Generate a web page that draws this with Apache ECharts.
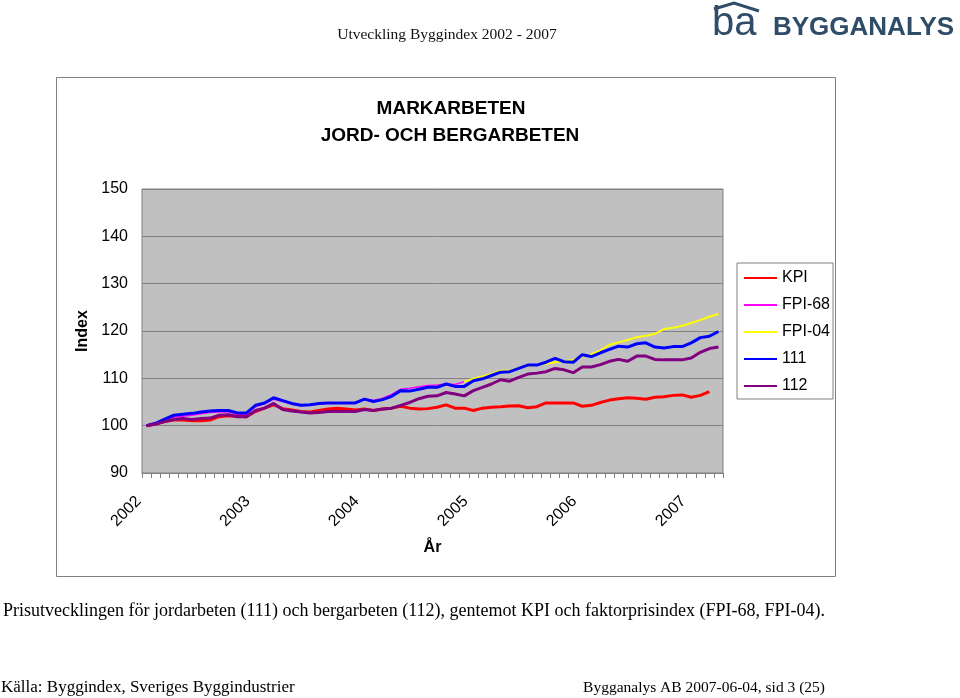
<!DOCTYPE html>
<html><head><meta charset="utf-8">
<script src="https://cdn.jsdelivr.net/npm/echarts@6/dist/echarts.min.js"></script>
<style>html,body{margin:0;padding:0;background:#fff}#c{width:960px;height:698px}</style>
</head><body><div id="c"></div>
<script>
const categories = [
 '2002-01','2002-02','2002-03','2002-04','2002-05','2002-06','2002-07','2002-08','2002-09','2002-10','2002-11','2002-12',
 '2003-01','2003-02','2003-03','2003-04','2003-05','2003-06','2003-07','2003-08','2003-09','2003-10','2003-11','2003-12',
 '2004-01','2004-02','2004-03','2004-04','2004-05','2004-06','2004-07','2004-08','2004-09','2004-10','2004-11','2004-12',
 '2005-01','2005-02','2005-03','2005-04','2005-05','2005-06','2005-07','2005-08','2005-09','2005-10','2005-11','2005-12',
 '2006-01','2006-02','2006-03','2006-04','2006-05','2006-06','2006-07','2006-08','2006-09','2006-10','2006-11','2006-12',
 '2007-01','2007-02','2007-03','2007-04'];
const seriesNames = ['KPI', 'FPI-68', 'FPI-04', '111', '112'];
const kpi = [100.0,100.35,100.85,101.2,101.2,101.05,101.05,101.2,101.9,102.1,102.0,101.9,
 103.0,103.7,104.4,103.6,103.3,103.0,102.9,103.2,103.5,103.7,103.5,103.3,
 103.5,103.2,103.5,103.7,104.1,103.7,103.5,103.6,103.9,104.4,103.7,103.7,
 103.2,103.7,103.9,104.0,104.15,104.2,103.8,104.0,104.8,104.8,104.8,104.8,
 104.1,104.3,104.9,105.4,105.7,105.9,105.8,105.6,106.0,106.1,106.4,106.5,
 106.0,106.4,107.2,null];
const fpi68 = [100.0,100.4,101.1,101.8,102.0,102.2,102.5,102.8,102.9,102.9,102.4,102.4,
 104.0,104.6,105.6,105.1,104.5,104.2,104.3,104.6,104.8,104.8,104.8,104.9,
 105.7,105.3,105.8,106.6,107.7,107.9,108.2,108.5,108.6,108.8,108.7,109.3,
 null,null,null,null,null,null,null,null,null,null,null,null,
 null,null,null,null,null,null,null,null,null,null,null,null,
 null,null,null,null];
const fpi04 = [null,null,null,null,null,null,null,null,null,null,null,null,
 null,null,null,null,null,null,null,null,null,null,null,null,
 null,null,null,null,null,null,null,null,null,null,null,109.3,
 109.9,110.4,110.9,111.6,111.6,112.2,112.6,112.8,113.1,113.4,113.6,113.9,
 114.6,115.1,115.9,117.1,117.6,118.1,118.7,119.0,119.4,120.4,120.7,121.1,
 121.7,122.3,123.0,123.6];
const idx111 = [100.0,100.5,101.4,102.2,102.4,102.6,102.9,103.1,103.2,103.2,102.7,102.7,
 104.3,104.8,105.9,105.3,104.7,104.3,104.4,104.7,104.8,104.8,104.8,104.8,
 105.6,105.1,105.5,106.2,107.4,107.3,107.7,108.1,108.1,108.8,108.3,108.3,
 109.5,109.9,110.6,111.3,111.4,112.1,112.8,112.8,113.4,114.2,113.5,113.4,
 115.0,114.6,115.4,116.1,116.8,116.6,117.3,117.5,116.6,116.4,116.7,116.7,
 117.5,118.6,118.9,119.9];
const idx112 = [100.0,100.35,100.85,101.3,101.5,101.3,101.5,101.6,102.2,102.3,101.9,101.9,
 103.2,103.7,104.7,103.4,103.1,102.9,102.7,102.8,103.0,103.0,103.0,103.0,
 103.4,103.2,103.5,103.7,104.3,104.9,105.7,106.2,106.3,107.0,106.7,106.3,
 107.4,108.1,108.8,109.7,109.4,110.2,110.9,111.1,111.4,112.1,111.8,111.2,
 112.4,112.4,112.9,113.6,114.0,113.6,114.7,114.7,114.0,113.9,113.9,113.9,
 114.3,115.5,116.3,116.6];
const yMin = 90, yMax = 150, yStep = 10;

const SANS = "'Liberation Sans', Arial, sans-serif";
const SERIF = "'Liberation Serif', 'Times New Roman', serif";
const LOGO = '#2f4d68';

const chart = echarts.init(document.getElementById('c'));
const option = {
  animation: false,
  backgroundColor: '#ffffff',
  graphic: [
    { type: 'rect', silent: true, z: -10, shape: { x: 56.5, y: 77.5, width: 779, height: 499 },
      style: { fill: '#ffffff', stroke: '#808080', lineWidth: 1 } },
    { type: 'text', silent: true, style: { text: 'MARKARBETEN', x: 451, y: 108.5, textAlign: 'center', textVerticalAlign: 'middle',
      font: "bold 19px " + SANS, fill: '#000' } },
    { type: 'text', silent: true, style: { text: 'JORD- OCH BERGARBETEN', x: 450, y: 136, textAlign: 'center', textVerticalAlign: 'middle',
      font: "bold 19px " + SANS, fill: '#000' } },
    { type: 'text', silent: true, style: { text: 'Utveckling Byggindex 2002 - 2007', x: 447, y: 35, textAlign: 'center', textVerticalAlign: 'middle',
      font: "15.5px " + SERIF, fill: '#111' } },
    { type: 'text', silent: true, style: { text: 'ba', x: 712, y: 24, textAlign: 'left', textVerticalAlign: 'middle',
      font: "40px " + SANS, fill: LOGO } },
    { type: 'polyline', silent: true, shape: { points: [[714, 9], [734, 3], [759, 11]] },
      style: { stroke: LOGO, lineWidth: 3, fill: null } },
    { type: 'text', silent: true, style: { text: 'BYGGANALYS', x: 773, y: 28, textAlign: 'left', textVerticalAlign: 'middle',
      font: "bold 26px " + SANS, fill: LOGO } },
    { type: 'text', silent: true, style: { text: 'Prisutvecklingen för jordarbeten (111) och bergarbeten (112), gentemot KPI och faktorprisindex (FPI-68, FPI-04).',
      x: 3, y: 611, textAlign: 'left', textVerticalAlign: 'middle', font: "18px " + SERIF, fill: '#000' } },
    { type: 'text', silent: true, style: { text: 'Källa: Byggindex, Sveriges Byggindustrier',
      x: 1, y: 688, textAlign: 'left', textVerticalAlign: 'middle', font: "17px " + SERIF, fill: '#000' } },
    { type: 'text', silent: true, style: { text: 'Bygganalys AB 2007-06-04, sid 3 (25)',
      x: 825, y: 688, textAlign: 'right', textVerticalAlign: 'middle', font: "15.5px " + SERIF, fill: '#000' } }
  ],
  grid: { left: 142, top: 189, width: 581, height: 284, show: true, backgroundColor: '#C0C0C0',
          borderColor: '#808080', borderWidth: 1, containLabel: false },
  legend: {
    orient: 'vertical', left: 737, top: 263, itemWidth: 33, itemHeight: 16, itemGap: 11,
    padding: [7, 3, 5, 6], borderColor: '#808080', borderWidth: 1, backgroundColor: '#ffffff',
    itemStyle: { color: 'rgba(0,0,0,0)', borderWidth: 0, opacity: 0 },
    textStyle: { fontSize: 16, color: '#000', fontFamily: SANS }, data: seriesNames
  },
  xAxis: {
    type: 'category', data: categories, boundaryGap: true,
    name: 'År', nameLocation: 'middle', nameGap: 67,
    nameTextStyle: { fontSize: 16, fontWeight: 'bold', color: '#000', fontFamily: SANS },
    axisLine: { show: true, lineStyle: { color: '#808080' } },
    axisTick: { show: true, interval: 0, length: 5, lineStyle: { color: '#808080' } },
    axisLabel: { interval: function (i) { return i % 12 === 0; }, rotate: 45, margin: 18, padding: [0, 11, 0, 0],
      formatter: function (v) { return v.slice(0, 4); }, fontSize: 16, color: '#000', fontFamily: SANS },
    splitLine: { show: false }
  },
  yAxis: {
    type: 'value', min: yMin, max: yMax, interval: yStep,
    name: 'Index', nameLocation: 'middle', nameGap: 48,
    nameTextStyle: { fontSize: 16, fontWeight: 'bold', color: '#000', fontFamily: SANS },
    axisLine: { show: false }, axisTick: { show: false },
    axisLabel: { fontSize: 16, color: '#000', margin: 14, fontFamily: SANS },
    splitLine: { show: true, lineStyle: { color: '#808080', width: 1 } }
  },
  series: [
    { name: 'KPI', type: 'line', data: kpi, symbol: 'none', lineStyle: { color: '#FF0000', width: 3 }, itemStyle: { color: '#FF0000' } },
    { name: 'FPI-68', type: 'line', data: fpi68, symbol: 'none', lineStyle: { color: '#FF00FF', width: 1.5 }, itemStyle: { color: '#FF00FF' } },
    { name: 'FPI-04', type: 'line', data: fpi04, symbol: 'none', lineStyle: { color: '#FFFF00', width: 2 }, itemStyle: { color: '#FFFF00' } },
    { name: '111', type: 'line', data: idx111, symbol: 'none', lineStyle: { color: '#0000FF', width: 3 }, itemStyle: { color: '#0000FF' } },
    { name: '112', type: 'line', data: idx112, symbol: 'none', lineStyle: { color: '#800080', width: 3 }, itemStyle: { color: '#800080' } }
  ]
};
chart.setOption(option);
</script></body></html>
